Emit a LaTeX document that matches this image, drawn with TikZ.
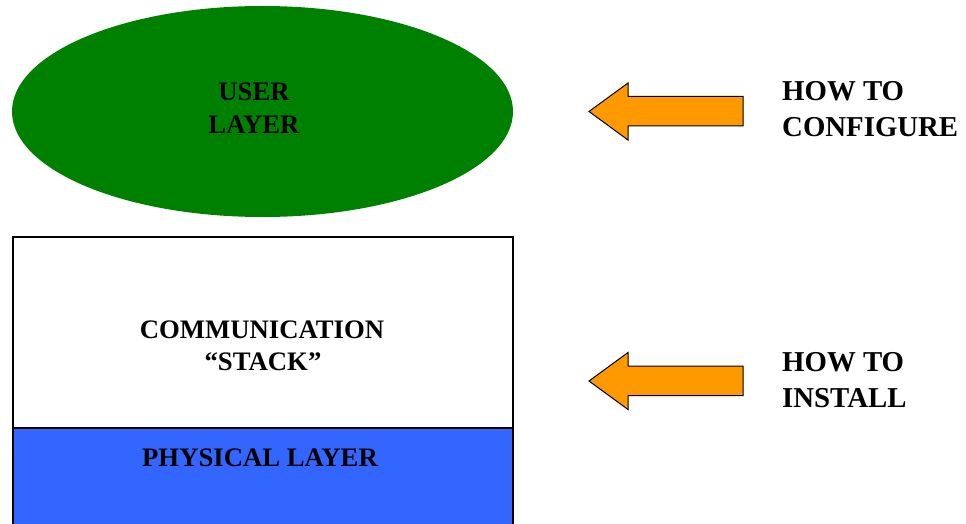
\documentclass[tikz,border=0pt]{standalone}
\usepackage{fontspec}
\setmainfont{Liberation Serif}
\usetikzlibrary{shapes.geometric}
\definecolor{usergreen}{HTML}{008000}
\definecolor{phyblue}{HTML}{3366FF}
\definecolor{arroworange}{HTML}{FF9900}
\begin{document}
\begin{tikzpicture}[x=1pt,y=-1pt,
  lbl/.style={inner sep=0pt,font=\fontsize{26.7}{31}\selectfont\bfseries},
  sidelbl/.style={inner sep=0pt,anchor=base west,font=\fontsize{28.8}{36}\selectfont\bfseries},
  fatarrow/.style={draw=black,line width=1pt,fill=arroworange,line join=miter}]
  \useasboundingbox (0,0) rectangle (966,524);
  \begin{scope}
    \clip (0,0) rectangle (966,524);
    % user layer
    \node[ellipse,fill=usergreen,minimum width=501,minimum height=211,inner sep=0pt] (user) at (262.5,111.5) {};
    % protocol stack: communication part and physical layer
    \fill[white] (13,237) rectangle (513,428);
    \fill[phyblue] (13,428) rectangle (513,540);
    \draw[line width=1.5pt] (13,540) -- (13,237) -- (513,237) -- (513,540);
    \draw[line width=1.5pt] (13,428) -- (513,428);
  \end{scope}
  \coordinate (stack) at (263,332);
  \node[lbl,anchor=base] (u1) at (254,101) {USER};
  \node[lbl,anchor=base] (u2) at (254,133) {LAYER};
  \node[lbl,anchor=base] (c1) at (262,338) {COMMUNICATION};
  \node[lbl,anchor=base] (c2) at (263,370) {“STACK”};
  \node[lbl,anchor=base] (p1) at (260,466) {PHYSICAL LAYER};
  % block arrows
  \draw[fatarrow] (589,111.5) -- (628,83) -- (628,96.5) -- (743,96.5) -- (743,126) -- (628,126) -- (628,140) -- cycle;
  \draw[fatarrow] (589,381) -- (628,352.5) -- (628,366) -- (743,366) -- (743,395.5) -- (628,395.5) -- (628,409.5) -- cycle;
  % side captions
  \node[sidelbl] (cfg1) at (782,101) {HOW TO};
  \node[sidelbl] (cfg2) at (782,137) {CONFIGURE};
  \node[sidelbl] (ins1) at (782,371) {HOW TO};
  \node[sidelbl] (ins2) at (782,407) {INSTALL};
\end{tikzpicture}
\end{document}
